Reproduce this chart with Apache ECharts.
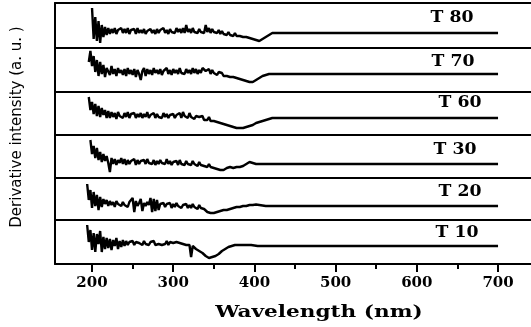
<!DOCTYPE html>
<html><head><meta charset="utf-8">
<script src="https://cdn.jsdelivr.net/npm/echarts@6/dist/echarts.min.js"></script>
<style>html,body{margin:0;padding:0;background:#fff}#c{width:531px;height:327px}</style>
</head><body><div id="c"></div>
<script>
// Wavelength samples (nm)
const wavelength = [194,196,198,
200,202,204,206,208,210,212,214,216,218,
220,222,224,226,228,230,232,234,236,238,
240,242,244,246,248,250,252,254,256,258,
260,262,264,266,268,270,272,274,276,278,
280,282,284,286,288,290,292,294,296,298,
300,302,304,306,308,310,312,314,316,318,
320,322,324,326,328,330,332,334,336,338,
340,342,344,346,348,350,352,354,356,358,
360,362,364,366,368,370,372,374,376,378,
380,382,384,386,388,390,392,394,396,398,
400,402,404,406,408,410,412,414,416,418,
420,422,424,426,428,430,432,434,436,438,
440,
460,480,500,520,540,560,580,600,620,640,660,680,700];

const seriesNames = ['T 80','T 70','T 60','T 30','T 20','T 10'];

const t80 = [null,null,null,
25,-6,16,-8,12,-10,8,-4,6,-2,
5,-1,4,0,5,-1,3,1,5,0,
4,0,5,-1,3,1,4,-1,5,0,
3,0,4,-1,2,1,4,0,3,-1,
4,0,3,1,5,0,3,-1,4,1,
3,0,5,1,4,0,5,0,8,1,
4,0,5,1,3,0,4,1,3,0,
8,1,5,0,4,1,3,0,3,-1,
2,-1,1,-2,1,-2,0,-3,0,-3,
-1,-3,-2,-4,-3,-4,-4,-5,-5,-6,
-7,-7,-8,-8,-7,-6,-5,-4,-3,-2,
-1,0,0,0,0,0,0,0,0,0,
0,
0,0,0,0,0,0,0,0,0,0,0,0,0];

const t70 = [null,12,23,
8,18,2,14,-2,12,0,9,-3,6,
7,-1,8,0,5,-2,6,1,4,-1,
5,-2,6,0,4,-1,5,-3,4,0,
-6,3,6,-2,5,0,4,-1,6,1,
4,0,5,-1,3,1,6,0,4,-1,
5,1,4,0,6,1,3,0,5,1,
4,0,6,1,5,0,4,1,6,8,
3,2,5,0,4,1,3,-1,2,0,
1,-2,0,-2,-1,-3,-2,-3,-2,-4,
-4,-5,-5,-6,-6,-7,-7,-8,-8,-8,
-7,-6,-5,-4,-3,-2,-1,-1,0,0,
0,0,0,0,0,0,0,0,0,0,
0,
0,0,0,0,0,0,0,0,0,0,0,0,0];

const t60 = [null,21,8,
16,4,14,2,12,1,10,3,8,0,
7,0,6,1,5,-1,6,2,4,0,
5,1,6,0,4,2,5,0,4,1,
5,0,4,1,6,0,3,1,5,0,
4,1,3,0,5,1,4,0,3,1,
4,0,3,1,5,0,6,2,3,0,
5,1,3,-1,2,0,1,-1,2,-2,
0,-2,1,-3,-1,-3,-2,-4,-3,-5,
-4,-6,-5,-7,-7,-8,-8,-9,-9,-10,
-9,-10,-10,-10,-9,-9,-8,-8,-7,-7,
-6,-5,-5,-4,-3,-3,-2,-2,-1,-1,
-1,0,0,0,0,0,0,0,0,0,
0,
0,0,0,0,0,0,0,0,0,0,0,0,0];

const t30 = [null,null,24,
10,18,6,16,4,12,2,10,3,8,
1,-8,6,0,5,-1,4,1,6,0,
5,-1,4,0,3,1,5,-1,4,0,
3,1,4,0,5,1,3,0,4,-1,
3,0,4,1,2,0,5,0,3,-1,
2,0,3,-1,4,0,2,-1,3,0,
2,-1,3,0,1,-2,2,-1,0,-2,
-1,-3,0,-3,-2,-4,-3,-5,-4,-6,
-7,-6,-5,-4,-4,-3,-3,-4,-3,-3,
-2,-3,-2,-2,-1,0,1,2,1.5,1,
0,0,0,0,0,0,0,0,0,0,
0,0,0,0,0,0,0,0,0,0,
0,
0,0,0,0,0,0,0,0,0,0,0,0,0];

const t20 = [22,6,16,
-2,14,0,11,-4,9,-1,7,2,6,
0,5,1,4,-1,5,2,3,0,4,
1,3,-1,4,2,8,-6,5,0,3,
7,-5,3,0,4,1,8,-6,7,-5,
6,-4,2,0,3,-1,2,0,3,-2,
2,-1,3,0,2,-2,1,-1,2,-2,
1,-2,2,-1,0,-3,1,-2,-1,-3,
-4,-6,-5,-7,-6,-7,-5,-6,-4,-5,
-4,-4,-3,-4,-3,-3,-2,-2,-2,-1,
-1,-1,0,0,0,0,0,1,1,1,
1,1.5,1.5,1,1,0.5,0,0,0,0,
0,0,0,0,0,0,0,0,0,0,
0,
0,0,0,0,0,0,0,0,0,0,0,0,0];

const t10 = [21,4,16,
-4,13,-6,12,2,15,-6,9,-3,8,
-2,7,-4,6,0,8,-3,5,-1,6,
0,5,1,4,2,5,1,4,2,3,
4,1,5,2,3,1,4,2,5,1,
3,2,4,1,3,2,5,1,4,2,
3,1,4,2,3,1,2,3,1,2,
1,-11,0,-2,-3,-4,-5,-6,-7,-8,
-10,-11,-12,-12,-11,-11,-10,-9,-8,-7,
-5,-4,-3,-2,-1,-1,0,0,1,1,
1,1,1,1,1,1,1,1,1,0.5,
0.5,0.5,0,0,0,0,0,0,0,0,
0,0,0,0,0,0,0,0,0,0,
0,
0,0,0,0,0,0,0,0,0,0,0,0,0];

const seriesValues = [t80, t70, t60, t30, t20, t10];
const majorTicks = [200,300,400,500,600,700];
const minorTicks = [250,350,450,550,650];

// layout
const panelTops = [3,48,92,135,178,220];
const plotBottom = 264;
const baselines = [33,74,118,164,206,246];
const labelPos = [[452,18],[453,62],[460,103],[455,150],[460,192],[457,233]];
const X_MIN = 154.4, X_MAX = 740.6;
const frame = {color: '#000', width: 2};

const grids = [], xAxes = [], yAxes = [], series = [], graphics = [];
for (let i = 0; i < 6; i++) {
  const top = panelTops[i];
  const bottom = i < 5 ? panelTops[i+1] : plotBottom;
  grids.push({left: 55, right: 0, top: top, height: bottom - top, show: false});
  const isBottom = i === 5;
  xAxes.push({
    type: 'value', gridIndex: i, min: X_MIN, max: X_MAX, position: 'bottom',
    axisLine: {show: true, onZero: false, lineStyle: frame},
    axisTick: {show: isBottom, customValues: majorTicks, length: 8, lineStyle: {color: '#000', width: 2}},
    axisLabel: {show: isBottom, customValues: majorTicks, margin: 12, color: '#000',
      fontFamily: 'DejaVu Serif', fontWeight: 'bold', fontSize: 15},
    splitLine: {show: false}
  });
  yAxes.push({type: 'value', gridIndex: i, min: -(bottom - baselines[i]), max: baselines[i] - top,
    position: 'left',
    axisLine: {show: true, onZero: false, lineStyle: frame},
    axisTick: {show: false}, axisLabel: {show: false}, splitLine: {show: false}});
  series.push({
    type: 'line', name: seriesNames[i], xAxisIndex: i, yAxisIndex: i,
    data: wavelength.map((w, k) => [w, seriesValues[i][k]]),
    showSymbol: false, connectNulls: false, silent: true,
    lineStyle: {color: '#000', width: 2.4}, animation: false
  });
  graphics.push({type: 'text', x: labelPos[i][0], y: labelPos[i][1], scaleX: 1.08,
    style: {text: seriesNames[i], fill: '#000', font: 'bold 16px "DejaVu Serif"',
      textAlign: 'center', textVerticalAlign: 'middle'}});
}
// top frame line of the first panel
xAxes.push({
  type: 'value', gridIndex: 0, min: X_MIN, max: X_MAX, position: 'top',
  axisLine: {show: true, onZero: false, lineStyle: frame},
  axisTick: {show: false}, axisLabel: {show: false}, splitLine: {show: false}
});
// minor ticks axis on bottom panel
xAxes.push({
  type: 'value', gridIndex: 5, min: X_MIN, max: X_MAX, position: 'bottom',
  axisLine: {show: false, onZero: false},
  axisTick: {show: true, customValues: minorTicks, length: 5, lineStyle: {color: '#000', width: 2}},
  axisLabel: {show: false}, splitLine: {show: false}
});

graphics.push({type: 'text', x: 319, y: 313, scaleX: 1.35,
  style: {text: 'Wavelength (nm)', fill: '#000', font: 'bold 16px "DejaVu Serif"',
    textAlign: 'center', textVerticalAlign: 'middle'}});
graphics.push({type: 'text', x: 17, y: 127, rotation: Math.PI/2,
  style: {text: 'Derivative intensity (a. u. )', fill: '#000', font: '15px "DejaVu Sans"',
    textAlign: 'center', textVerticalAlign: 'middle'}});

const chart = echarts.init(document.getElementById('c'), null, {renderer: 'canvas'});
chart.setOption({
  animation: false,
  backgroundColor: '#fff',
  grid: grids, xAxis: xAxes, yAxis: yAxes, series: series, graphic: graphics
});
</script></body></html>
